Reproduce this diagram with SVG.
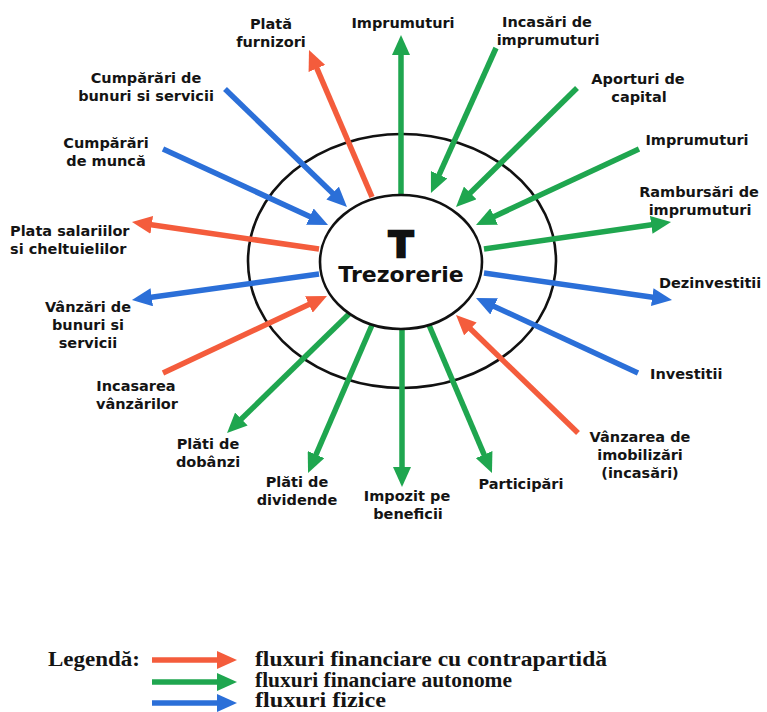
<svg xmlns="http://www.w3.org/2000/svg" width="767" height="712" viewBox="0 0 767 712">
<style>
.lbl{font-family:"DejaVu Sans","Liberation Sans",sans-serif;font-weight:bold;font-size:14.5px;fill:#141414}
.c{text-anchor:middle}
.leg{font-family:"Liberation Serif","Times New Roman",serif;font-weight:bold;font-size:20px;fill:#141414}
.r{stroke:#F45C3C;stroke-width:5.5;fill:none}
.g{stroke:#1FA64F;stroke-width:5.5;fill:none}
.b{stroke:#2B6FD8;stroke-width:5.5;fill:none}
.r{marker-end:url(#mr)}
.g{marker-end:url(#mg)}
.b{marker-end:url(#mb)}
.ell{fill:none;stroke:#111;stroke-width:2.6}
</style>
<defs>
<marker id="mr" markerUnits="userSpaceOnUse" markerWidth="20" markerHeight="18" refX="4" refY="9" orient="auto"><path d="M0,0 L20,9 L0,18 z" fill="#F45C3C"/></marker>
<marker id="mg" markerUnits="userSpaceOnUse" markerWidth="20" markerHeight="18" refX="4" refY="9" orient="auto"><path d="M0,0 L20,9 L0,18 z" fill="#1FA64F"/></marker>
<marker id="mb" markerUnits="userSpaceOnUse" markerWidth="20" markerHeight="18" refX="4" refY="9" orient="auto"><path d="M0,0 L20,9 L0,18 z" fill="#2B6FD8"/></marker>
</defs>
<rect width="767" height="712" fill="#fff"/>

<g id="outer-ring"><ellipse class="ell" cx="402" cy="261" rx="154" ry="127"/></g>

<g id="connectors">
<line class="r" x1="372" y1="197" x2="315.3" y2="64.7"/>
<line class="g" x1="401" y1="195" x2="401" y2="51"/>
<line class="g" x1="496" y1="48" x2="437.5" y2="178.4"/>
<line class="g" x1="577" y1="88" x2="467.4" y2="195.8"/>
<line class="g" x1="639" y1="149" x2="490.5" y2="218.2"/>
<line class="g" x1="484" y1="249" x2="655.2" y2="224.3"/>
<line class="b" x1="484" y1="273" x2="656.2" y2="297.7"/>
<line class="b" x1="638" y1="373" x2="490.5" y2="304.7"/>
<line class="r" x1="578" y1="433" x2="467.5" y2="326.1"/>
<line class="g" x1="429" y1="325" x2="485.7" y2="458.3"/>
<line class="g" x1="402" y1="329" x2="402" y2="471"/>
<line class="g" x1="372" y1="325" x2="314.4" y2="458.3"/>
<line class="g" x1="349" y1="314" x2="238.5" y2="421.8"/>
<line class="r" x1="163" y1="373" x2="312.5" y2="302.8"/>
<line class="b" x1="319" y1="274" x2="147.8" y2="297.8"/>
<line class="r" x1="319" y1="249" x2="147.8" y2="224.3"/>
<line class="b" x1="163" y1="149" x2="313.5" y2="218.3"/>
<line class="b" x1="225" y1="89" x2="335.5" y2="195.9"/>
</g>

<g id="trezorerie">
<ellipse cx="401" cy="262" rx="81" ry="67" fill="#fff" stroke="#111" stroke-width="2.6"/>
<text x="401" y="257" text-anchor="middle" font-family="DejaVu Sans,sans-serif" font-weight="bold" font-size="36" fill="#111" stroke="#111" stroke-width="2.5">T</text>
<text x="401" y="282" text-anchor="middle" font-family="DejaVu Sans,sans-serif" font-weight="bold" font-size="22" fill="#111">Trezorerie</text>
</g>

<g id="plata-furnizori"><text class="lbl c" x="271" y="29">Plată</text><text class="lbl c" x="271" y="47">furnizori</text></g>
<g id="imprumuturi-sus"><text class="lbl c" x="403" y="28">Imprumuturi</text></g>
<g id="incasari-imprumuturi"><text class="lbl c" x="547" y="27">Incasări de</text><text class="lbl c" x="548" y="44.5">imprumuturi</text></g>
<g id="aporturi-capital"><text class="lbl c" x="638" y="84">Aporturi de</text><text class="lbl c" x="639" y="102">capital</text></g>
<g id="imprumuturi-dreapta"><text class="lbl c" x="697" y="145">Imprumuturi</text></g>
<g id="rambursari"><text class="lbl c" x="699" y="197">Rambursări de</text><text class="lbl c" x="700" y="215">imprumuturi</text></g>
<g id="dezinvestitii"><text class="lbl" x="659" y="288">Dezinvestitii</text></g>
<g id="investitii"><text class="lbl" x="650" y="379">Investitii</text></g>
<g id="vanzarea-imobilizari"><text class="lbl c" x="640" y="442">Vânzarea de</text><text class="lbl c" x="640" y="460">imobilizări</text><text class="lbl c" x="640" y="478">(incasări)</text></g>
<g id="participari"><text class="lbl c" x="521" y="489">Participări</text></g>
<g id="impozit"><text class="lbl c" x="407" y="501">Impozit pe</text><text class="lbl c" x="408" y="519">beneficii</text></g>
<g id="plati-dividende"><text class="lbl c" x="297" y="487">Plăti de</text><text class="lbl c" x="297" y="505">dividende</text></g>
<g id="plati-dobanzi"><text class="lbl c" x="208" y="449">Plăti de</text><text class="lbl c" x="208" y="467">dobânzi</text></g>
<g id="incasarea-vanzarilor"><text class="lbl c" x="136" y="391">Incasarea</text><text class="lbl c" x="137" y="409">vânzărilor</text></g>
<g id="vanzari-bunuri"><text class="lbl c" x="88" y="312">Vânzări de</text><text class="lbl c" x="88" y="330">bunuri si</text><text class="lbl c" x="88" y="348">servicii</text></g>
<g id="plata-salariilor"><text class="lbl" x="10" y="236">Plata salariilor</text><text class="lbl" x="10" y="254">si cheltuielilor</text></g>
<g id="cumparari-munca"><text class="lbl c" x="106" y="148">Cumpărări</text><text class="lbl c" x="106" y="166">de muncă</text></g>
<g id="cumparari-bunuri"><text class="lbl c" x="146" y="83">Cumpărări de</text><text class="lbl c" x="146" y="101">bunuri si servicii</text></g>

<g id="legend">
<text class="leg" x="48" y="666" textLength="92" lengthAdjust="spacingAndGlyphs">Legendă:</text>
<line class="r" x1="152" y1="660" x2="221" y2="660" stroke-width="7"/>
<line class="g" x1="152" y1="682" x2="221" y2="682" stroke-width="7"/>
<line class="b" x1="152" y1="703" x2="221" y2="703" stroke-width="7"/>
<text class="leg" x="255" y="666" textLength="352" lengthAdjust="spacingAndGlyphs">fluxuri financiare cu contrapartidă</text>
<text class="leg" x="255" y="687" textLength="257" lengthAdjust="spacingAndGlyphs">fluxuri financiare autonome</text>
<text class="leg" x="255" y="707" textLength="131" lengthAdjust="spacingAndGlyphs">fluxuri fizice</text>
</g>
</svg>
